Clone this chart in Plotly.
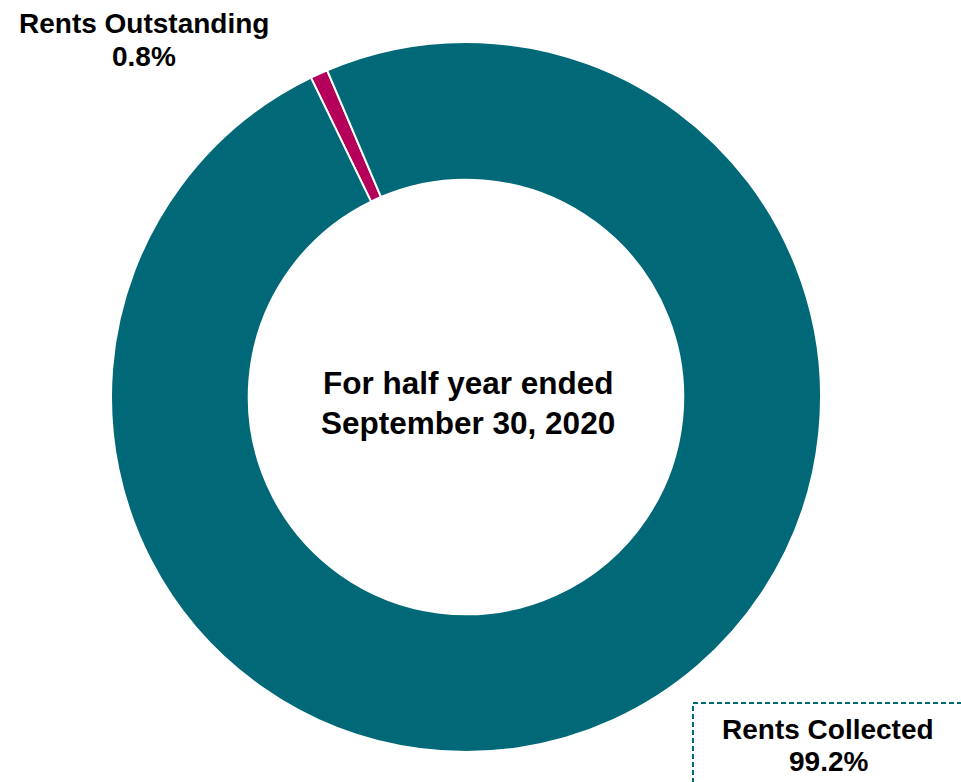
import plotly.graph_objects as go

labels = ["Rents Outstanding", "Rents Collected"]
values = [0.8, 99.2]
colors = ["#B5005B", "#006877"]
center_lines = ["For half year ended", "September 30, 2020"]

W, H = 961, 782
FONT = "Liberation Sans, Arial, sans-serif"

fig = go.Figure()
fig.add_trace(go.Pie(
    labels=labels,
    values=values,
    hole=0.612,
    sort=False,
    direction="clockwise",
    rotation=334.1,
    textinfo="none",
    hoverinfo="label+percent",
    marker=dict(colors=colors, line=dict(color="white", width=2)),
    domain=dict(x=[111 / W, 821 / W], y=[30 / H, 740 / H]),
    showlegend=False,
))

def px(x, y):
    return x / W, 1 - y / H

annotations = []
# centre text
for i, line in enumerate(center_lines):
    x, y = px(468, 383 + 40 * i)
    annotations.append(dict(x=x, y=y, xref="paper", yref="paper", text="<b>%s</b>" % line,
                            showarrow=False, xanchor="center", yanchor="middle",
                            font=dict(family=FONT, size=31.5, color="black")))

# slice labels
label_pos = {"Rents Outstanding": (144, 24), "Rents Collected": (828, 729)}
for lab, val in zip(labels, values):
    cx, cy = label_pos[lab]
    for j, t in enumerate([lab, "%.1f%%" % val]):
        x, y = px(cx, cy + 32 * j)
        annotations.append(dict(x=x, y=y, xref="paper", yref="paper", text="<b>%s</b>" % t,
                                showarrow=False, xanchor="center", yanchor="middle",
                                font=dict(family=FONT, size=28, color="black")))

x0, y0 = px(693, 703)
x1, y1 = px(980, 800)
fig.add_shape(type="rect", xref="paper", yref="paper", x0=x0, y0=y0, x1=x1, y1=y1,
              line=dict(color="#006877", width=2, dash="5px,3px"), fillcolor="rgba(0,0,0,0)")

fig.update_layout(
    width=W, height=H,
    margin=dict(l=0, r=0, t=0, b=0),
    paper_bgcolor="white", plot_bgcolor="white",
    annotations=annotations,
)

fig.write_html("out.html")
